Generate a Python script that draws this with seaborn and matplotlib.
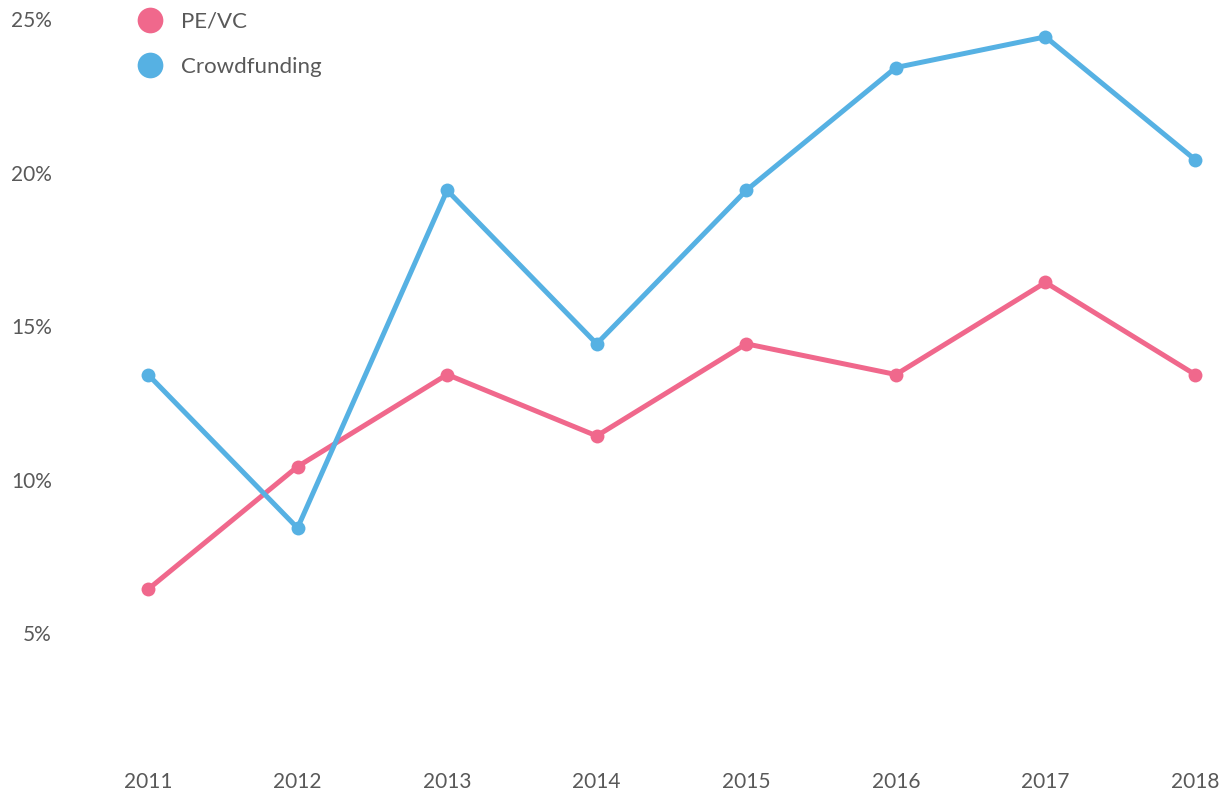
import seaborn as sns
import pandas as pd
import matplotlib
import matplotlib.pyplot as plt
import matplotlib.transforms as mtransforms
from matplotlib.lines import Line2D

matplotlib.use('Agg')

years = [2011, 2012, 2013, 2014, 2015, 2016, 2017, 2018]
pe_vc = [6, 10, 13, 11, 14, 13, 16, 13]
crowdfunding = [13, 8, 19, 14, 19, 23, 24, 20]
series_names = ['PE/VC', 'Crowdfunding']
y_ticks = [5, 10, 15, 20, 25]
y_tick_labels = ['5%', '10%', '15%', '20%', '25%']

PINK = '#f0688c'
BLUE = '#56b1e3'
TEXT = '#595959'

df = pd.DataFrame({
    'year': years * 2,
    'share': pe_vc + crowdfunding,
    'series': [series_names[0]] * len(years) + [series_names[1]] * len(years),
})

sns.set_theme(style='white')
plt.rcParams['font.family'] = ['Lato', 'DejaVu Sans']

fig = plt.figure(figsize=(12.26, 7.91), dpi=100)
ax = fig.add_axes([60 / 1226, 31 / 791, 1156 / 1226, 760 / 791])

sns.lineplot(data=df, x='year', y='share', hue='series', ax=ax,
             palette={series_names[0]: PINK, series_names[1]: BLUE},
             marker='o', markersize=10, markeredgewidth=0, linewidth=3.6,
             legend=False)

ax.set_xlim(2010.412, 2018.140)
ax.set_ylim(0.443, 25.2)
ax.set_xticks(years)
ax.set_xticklabels([str(y) for y in years])
ax.set_yticks(y_ticks)
ax.set_yticklabels(y_tick_labels)
ax.set_xlabel('')
ax.set_ylabel('')
ax.tick_params(axis='both', length=0, labelsize=15, labelcolor=TEXT)
ax.tick_params(axis='x', pad=9)
ax.tick_params(axis='y', pad=6)
for s in ax.spines.values():
    s.set_visible(False)

# y labels sit a little below their value in the original
offset = mtransforms.ScaledTranslation(0, -13 / 100, fig.dpi_scale_trans)
for lbl in ax.get_yticklabels():
    lbl.set_transform(lbl.get_transform() + offset)

handles = [Line2D([], [], linestyle='none', marker='o', markersize=18.5,
                  markeredgewidth=0, color=c) for c in (PINK, BLUE)]
leg = ax.legend(handles, series_names, loc='upper left',
                bbox_to_anchor=(128 / 1226, 1 - 3 / 791),
                bbox_transform=fig.transFigure, frameon=False,
                fontsize=16, handletextpad=0.8, labelspacing=1.14,
                borderaxespad=0, handlelength=1.2)
for t in leg.get_texts():
    t.set_color(TEXT)

fig.savefig('out.png', dpi=100)
plt.close()
